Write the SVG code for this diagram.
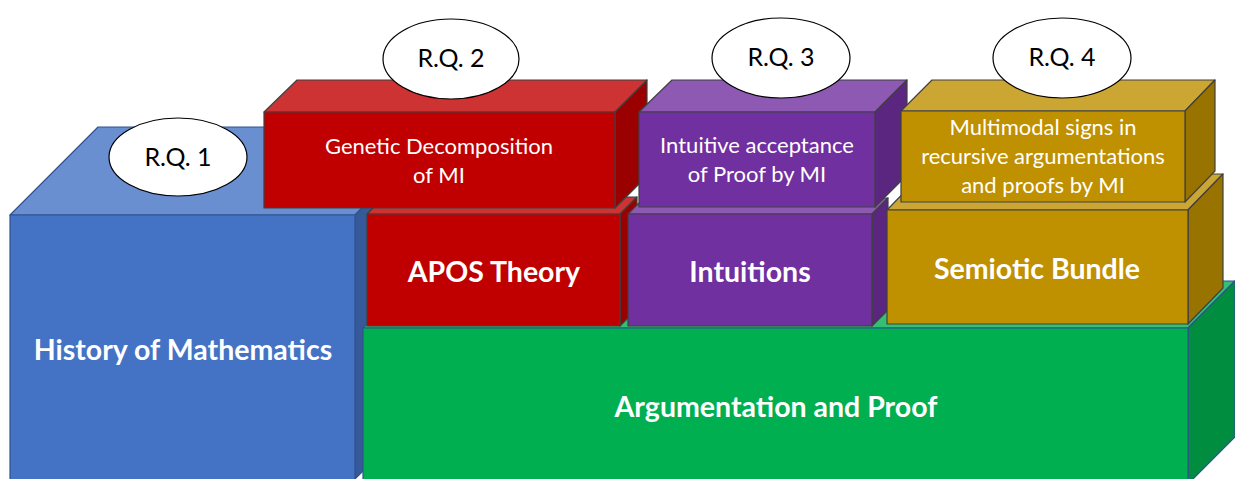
<svg xmlns="http://www.w3.org/2000/svg" width="1235" height="479" viewBox="0 0 1235 479">
  <style>
    .edge { stroke: #404040; stroke-width: 1.2; stroke-linejoin: round; }
    .edgeb { stroke: #2F528F; stroke-width: 1.2; stroke-linejoin: round; }
    .lbl { font-family: Lato, "Open Sans", sans-serif; fill: #ffffff; text-anchor: middle; }
    .small { font-size: 22px; }
    .big { font-size: 28.5px; font-weight: bold; }
    .rq { font-family: Lato, "Open Sans", sans-serif; font-size: 25px; fill: #000000; text-anchor: middle; }
    .bubble { fill: #ffffff; stroke: #000000; stroke-width: 1.2; }
    .blue-f { fill: #4472C4; } .blue-t { fill: #6A8FD0; } .blue-s { fill: #36599A; }
    .green-f { fill: #00B050; } .green-t { fill: #33C073; } .green-s { fill: #008D40; }
    .red-f { fill: #C00000; } .red-t { fill: #CD3333; } .red-s { fill: #9A0000; }
    .pur-f { fill: #7030A0; } .pur-t { fill: #8D59B3; } .pur-s { fill: #5A2680; }
    .gold-f { fill: #BF9000; } .gold-t { fill: #CCA633; } .gold-s { fill: #997300; }
  </style>

  <!-- base block: History of Mathematics -->
  <g id="history">
    <polygon class="blue-t edgeb" points="10,215 98,127 443,127 355,215"/>
    <polygon class="blue-s edgeb" points="355,215 443,127 443,391 355,479"/>
    <rect class="blue-f edgeb" x="10" y="215" width="345" height="270"/>
    <text class="lbl big" x="183" y="360">History of Mathematics</text>
  </g>

  <!-- base block: Argumentation and Proof -->
  <g id="argumentation">
    <polygon class="green-t edgeb" points="363,328 410,281 1235,281 1188,328"/>
    <polygon class="green-s edgeb" points="1188,328 1235,281 1235,437 1188,484"/>
    <rect class="green-f edgeb" x="363" y="328" width="825" height="160"/>
    <text class="lbl big" x="776" y="417">Argumentation and Proof</text>
  </g>

  <!-- middle layer -->
  <g id="apos">
    <polygon class="red-t edge" points="367,214 384,197 637,197 620,214"/>
    <polygon class="red-s edge" points="620,214 637,197 637,309 620,326"/>
    <rect class="red-f edge" x="367" y="214" width="253" height="112"/>
    <text class="lbl big" x="494" y="282">APOS Theory</text>
  </g>

  <g id="intuitions">
    <polygon class="pur-t edge" points="628,214 644,198 888,198 872,214"/>
    <polygon class="pur-s edge" points="872,214 888,198 888,310 872,326"/>
    <rect class="pur-f edge" x="628" y="214" width="244" height="112"/>
    <text class="lbl big" x="750" y="282">Intuitions</text>
  </g>

  <g id="semiotic">
    <polygon class="gold-t edge" points="887,210 922,174 1223,174 1188,210"/>
    <polygon class="gold-s edge" points="1188,210 1223,174 1223,288 1188,324"/>
    <rect class="gold-f edge" x="887" y="210" width="301" height="114"/>
    <text class="lbl big" x="1037" y="279">Semiotic Bundle</text>
  </g>

  <!-- top layer -->
  <g id="genetic">
    <polygon class="red-t edge" points="264,112 297,80 647,80 615,112"/>
    <polygon class="red-s edge" points="615,112 647,80 647,176 615,208"/>
    <rect class="red-f edge" x="264" y="112" width="351" height="96"/>
    <text class="lbl small" x="439" y="154">Genetic Decomposition</text>
    <text class="lbl small" x="439" y="183">of MI</text>
  </g>

  <g id="intuitive">
    <polygon class="pur-t edge" points="639,112 672,80 907,80 875,112"/>
    <polygon class="pur-s edge" points="875,112 907,80 907,175 875,207"/>
    <rect class="pur-f edge" x="639" y="112" width="236" height="95"/>
    <text class="lbl small" x="757" y="153">Intuitive acceptance</text>
    <text class="lbl small" x="757" y="182">of Proof by MI</text>
  </g>

  <g id="multimodal">
    <polygon class="gold-t edge" points="901,111 932,80 1215,80 1185,111"/>
    <polygon class="gold-s edge" points="1185,111 1215,80 1215,171 1185,202"/>
    <rect class="gold-f edge" x="901" y="111" width="284" height="91"/>
    <text class="lbl small" x="1043" y="135">Multimodal signs in</text>
    <text class="lbl small" x="1043" y="164">recursive argumentations</text>
    <text class="lbl small" x="1043" y="193">and proofs by MI</text>
  </g>

  <!-- research question bubbles -->
  <g id="rq1">
    <ellipse class="bubble" cx="178" cy="157" rx="69" ry="39"/>
    <text class="rq" x="178" y="166">R.Q. 1</text>
  </g>
  <g id="rq2">
    <ellipse class="bubble" cx="451" cy="59" rx="68" ry="40"/>
    <text class="rq" x="451" y="67">R.Q. 2</text>
  </g>
  <g id="rq3">
    <ellipse class="bubble" cx="781" cy="58" rx="69" ry="40"/>
    <text class="rq" x="781" y="66">R.Q. 3</text>
  </g>
  <g id="rq4">
    <ellipse class="bubble" cx="1062" cy="58" rx="69" ry="40"/>
    <text class="rq" x="1062" y="66">R.Q. 4</text>
  </g>

  <!-- no connectors in this figure -->
  <g id="connectors"/>
</svg>
